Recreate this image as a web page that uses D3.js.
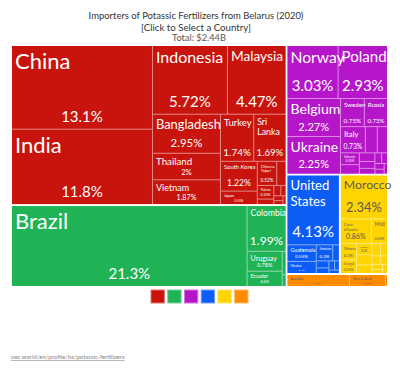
<!DOCTYPE html>
<html>
<head>
<meta charset="utf-8">
<script src="https://d3js.org/d3.v7.min.js"></script>
<style>
  body { margin: 0; background: #fff; }
  text { font-family: Lato, "Open Sans", sans-serif; }
</style>
</head>
<body>
<svg id="vis"></svg>
<script>
  var visWidth = 400
  var visHeight = 371

  // continents (top level of the treemap)
  var continents = ["Asia", "South America", "Europe", "North America", "Africa", "Oceania"]
  var continentColors = ["#c8140c", "#1fb355", "#b616c9", "#0c5df5", "#ffd400", "#ff8b00"]

  // countries per continent, share of total exports (%)
  var asiaNames = ["China", "India", "Indonesia", "Malaysia", "Bangladesh", "Thailand", "Vietnam", "Turkey", "Sri Lanka", "South Korea", "Japan", "Chinese Taipei", "Philippines", "Pakistan", "Singapore", "Myanmar", "Nepal", "Israel", "Kazakhstan", "United Arab Emirates"]
  var asiaValues = [13.1, 11.8, 5.72, 4.47, 2.95, 2, 1.87, 1.74, 1.69, 1.22, 0.55, 0.52, 0.25, 0.25, 0.1, 0.08, 0.06, 0.05, 0.04, 0.03]

  var southAmericaNames = ["Brazil", "Colombia", "Uruguay", "Ecuador", "Peru", "Paraguay"]
  var southAmericaValues = [21.3, 1.99, 0.78, 0.6, 0.1, 0.05]

  var europeNames = ["Norway", "Poland", "Belgium", "Ukraine", "Sweden", "Russia", "Italy", "Germany", "Netherlands", "Lithuania", "Latvia", "Estonia", "France", "Finland", "Denmark", "Spain", "Serbia", "Hungary", "Czechia"]
  var europeValues = [3.03, 2.93, 2.27, 2.25, 0.75, 0.73, 0.73, 0.35, 0.3, 0.25, 0.2, 0.15, 0.12, 0.1, 0.08, 0.07, 0.06, 0.05, 0.04]

  var northAmericaNames = ["United States", "Guatemala", "Mexico", "Honduras", "Nicaragua", "Costa Rica", "El Salvador", "Panama", "Dominican Republic", "Canada"]
  var northAmericaValues = [4.13, 0.55, 0.4, 0.3, 0.12, 0.1, 0.08, 0.06, 0.05, 0.04]

  var africaNames = ["Morocco", "Cote d'Ivoire", "Mali", "Ghana", "Senegal", "Nigeria", "Kenya", "Tanzania", "Cameroon", "Burkina Faso", "Zambia", "Togo", "Benin", "Egypt", "South Africa"]
  var africaValues = [2.34, 0.86, 0.45, 0.3, 0.25, 0.2, 0.18, 0.15, 0.12, 0.1, 0.08, 0.07, 0.06, 0.05, 0.05]

  var oceaniaNames = ["Australia", "New Zealand", "Fiji"]
  var oceaniaValues = [0.9, 0.52, 0.03]

  var titleLines = ["Importers of Potassic Fertilizers from Belarus (2020)", "[Click to Select a Country]"]
  var totalLabel = "Total: $2.44B"
  var sourceLabel = "oec.world/en/profile/hs/potassic-fertilizers"

  var countryNames = [asiaNames, southAmericaNames, europeNames, northAmericaNames, africaNames, oceaniaNames]
  var countryValues = [asiaValues, southAmericaValues, europeValues, northAmericaValues, africaValues, oceaniaValues]

  var svg = d3.select('#vis')
    .attr('width', visWidth)
    .attr('height', visHeight)

  // squeeze a text to a given width by adjusting its font size
  function fitWidth(sel, targetW) {
    var w = sel.node().getComputedTextLength()
    var fs = parseFloat(sel.attr('font-size'))
    sel.attr('font-size', fs * targetW / w)
  }

  // title
  var t1 = svg.append('text').attr('x', 196).attr('y', 19).attr('text-anchor', 'middle')
    .attr('font-size', 10).attr('fill', '#333').text(titleLines[0])
  fitWidth(t1, 215)
  var t2 = svg.append('text').attr('x', 196).attr('y', 31).attr('text-anchor', 'middle')
    .attr('font-size', 10).attr('fill', '#333').text(titleLines[1])
  fitWidth(t2, 110)
  var t3 = svg.append('text').attr('x', 199).attr('y', 41).attr('text-anchor', 'middle')
    .attr('font-size', 9).attr('fill', '#555').text(totalLabel)
  fitWidth(t3, 54)

  // hierarchy
  var rootData = {
    name: "root",
    children: continents.map((c, i) => ({
      name: c,
      color: continentColors[i],
      children: countryNames[i].map((n, j) => ({ name: n, value: countryValues[i][j] }))
    }))
  }

  var root = d3.hierarchy(rootData)
    .sum(d => d.value || 0)
    .sort((a, b) => b.value - a.value)

  var tmX = 12, tmY = 46, tmW = 375, tmH = 240

  d3.treemap()
    .size([tmW, tmH])
    .tile(d3.treemapSquarify)
    .paddingInner(d => d.depth === 0 ? 2 : 1)(root)

  var g = svg.append('g').attr('transform', `translate(${tmX},${tmY})`)

  // continent backgrounds (show as light lines between cells)
  g.selectAll('rect.cont')
    .data(root.children)
    .enter().append('rect')
    .attr('class', 'cont')
    .attr('x', d => d.x0)
    .attr('y', d => d.y0)
    .attr('width', d => d.x1 - d.x0)
    .attr('height', d => d.y1 - d.y0)
    .attr('fill', d => d3.interpolateRgb(d.data.color, '#fff')(0.5))

  var leaves = root.leaves()

  g.selectAll('rect.leaf')
    .data(leaves)
    .enter().append('rect')
    .attr('class', 'leaf')
    .attr('x', d => d.x0)
    .attr('y', d => d.y0)
    .attr('width', d => d.x1 - d.x0)
    .attr('height', d => d.y1 - d.y0)
    .attr('fill', d => d.parent.data.color)

  var fmt = d3.format('.3~r')
  var lineH = 1.18

  function nameLayout(name, w, h) {
    var options = [[name]]
    var words = name.split(' ')
    if (words.length > 1) {
      var best = null
      for (var k = 1; k < words.length; k++) {
        var l = [words.slice(0, k).join(' '), words.slice(k).join(' ')]
        var m = d3.max(l, s => s.length)
        if (!best || m < best.m) best = { l: l, m: m }
      }
      options.push(best.l)
    }
    var pick = null
    options.forEach(lines => {
      var longest = d3.max(lines, s => s.length)
      var f = Math.min(22, (w - 5) / (longest * 0.48), h * 0.45 / (lines.length * lineH))
      if (!pick || f > pick.f) pick = { lines: lines, f: f }
    })
    return pick
  }

  leaves.forEach(d => {
    var w = d.x1 - d.x0, h = d.y1 - d.y0
    if (w < 10 || h < 9) return
    var col = d.parent.data.color
    var txtColor = (col === "#ffd400" || col === "#ff8b00") ? '#5a5a5a' : '#fff'
    var share = fmt(d.data.value) + '%'
    var nl = nameLayout(d.data.name, w, h)
    var fs = Math.min(15, (w - 6) / (share.length * 0.53), h * 0.3)

    // shrink both labels together when the cell is too short for them
    var need = nl.f * (1.2 + (nl.lines.length - 1) * lineH) + fs * 1.15
    var avail = h - 4
    if (need > avail) {
      var k = avail / need
      nl.f *= k
      fs *= k
    }

    if (nl.f >= 2.5) {
      var tn = g.append('text')
        .attr('x', d.x0 + 3)
        .attr('y', d.y0 + 2 + nl.f * 0.95)
        .attr('font-size', nl.f)
        .attr('fill', txtColor)
      nl.lines.forEach((s, i) => {
        tn.append('tspan').attr('x', d.x0 + 3).attr('dy', i === 0 ? 0 : nl.f * lineH).text(s)
      })
    }
    if (fs >= 2.5) {
      g.append('text')
        .attr('x', (d.x0 + d.x1) / 2)
        .attr('y', d.y1 - fs * 0.4 - 1)
        .attr('text-anchor', 'middle')
        .attr('font-size', fs)
        .attr('fill', txtColor)
        .text(share)
    }
  })

  // legend squares
  var legendX = d3.scaleBand().domain(continents).range([151, 248]).paddingInner(0.2)
  svg.selectAll('rect.legend')
    .data(continents)
    .enter().append('rect')
    .attr('class', 'legend')
    .attr('x', d => legendX(d))
    .attr('y', 290)
    .attr('width', legendX.bandwidth())
    .attr('height', 13)
    .attr('fill', (d, i) => continentColors[i])
    .attr('stroke', (d, i) => d3.interpolateRgb(continentColors[i], '#fff')(0.4))
    .attr('stroke-width', 1)

  // source link
  var src = svg.append('text').attr('x', 11).attr('y', 359)
    .attr('font-size', 7).attr('fill', '#888')
    .attr('text-decoration', 'underline')
    .text(sourceLabel)
  fitWidth(src, 114)
</script>
</body>
</html>
